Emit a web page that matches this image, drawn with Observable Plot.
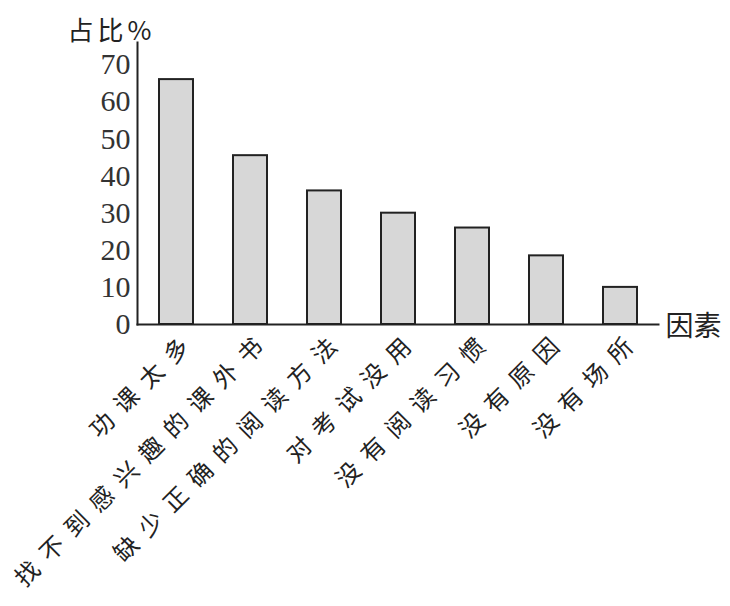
<!DOCTYPE html>
<html>
<head>
<meta charset="utf-8">
<script src="https://cdn.jsdelivr.net/npm/d3@7"></script>
<script src="https://cdn.jsdelivr.net/npm/@observablehq/plot@0.6"></script>
<style>
  body { margin: 0; background: #fff; }
  .xlab text { letter-spacing: 11px; }
  .ylab text { letter-spacing: 4px; }
  .yax text { font-family: 'Liberation Serif', serif; }
</style>
</head>
<body>
<div id="chart"></div>
<script>
const categories = ["功课太多", "找不到感兴趣的课外书", "缺少正确的阅读方法", "对考试没用", "没有阅读习惯", "没有原因", "没有场所"];
const values = [66, 45.5, 36, 30, 26, 18.5, 10];
const yTicks = [0, 10, 20, 30, 40, 50, 60, 70];
const yLabel = "占比%";
const xLabel = "因素";

const data = categories.map((c, i) => ({name: c, value: values[i]}));
const cjk = "'Noto Sans CJK SC', sans-serif";

const chart = Plot.plot({
  width: 730,
  height: 606,
  marginLeft: 137,
  marginRight: 72,
  marginTop: 42,
  marginBottom: 282,
  style: {background: "#fff", color: "#222"},
  x: {domain: categories, paddingInner: 0.547, paddingOuter: 0.25, axis: null},
  y: {domain: [0, 76], axis: null},
  marks: [
    Plot.barY(data, {x: "name", y: "value", fill: "#d7d7d7", stroke: "#222", strokeWidth: 2}),
    Plot.frame({anchor: "left", stroke: "#222", strokeWidth: 2}),
    Plot.frame({anchor: "bottom", stroke: "#222", strokeWidth: 2}),
    Plot.axisY({ticks: yTicks, tickSize: 0, tickPadding: 7, label: null,
      fontSize: 30, fontFamily: "Liberation Serif", fill: "#333", className: "yax"}),
    Plot.text(data, {x: "name", y: 0, text: "name", rotate: -45, textAnchor: "end", lineAnchor: "bottom",
      dx: 22, dy: 16, fontSize: 24, fontFamily: cjk, fill: "#222", className: "xlab"}),
    Plot.text([yLabel], {frameAnchor: "top-left", text: d => d, textAnchor: "start", lineAnchor: "middle",
      dx: -70, dy: -11, fontSize: 26, fontFamily: cjk, fill: "#222", className: "ylab"}),
    Plot.text([xLabel], {frameAnchor: "bottom-right", text: d => d, textAnchor: "start", lineAnchor: "middle",
      dx: 7, dy: 3, fontSize: 28, fontFamily: cjk, fill: "#222"})
  ]
});
document.getElementById("chart").appendChild(chart);
</script>
</body>
</html>
